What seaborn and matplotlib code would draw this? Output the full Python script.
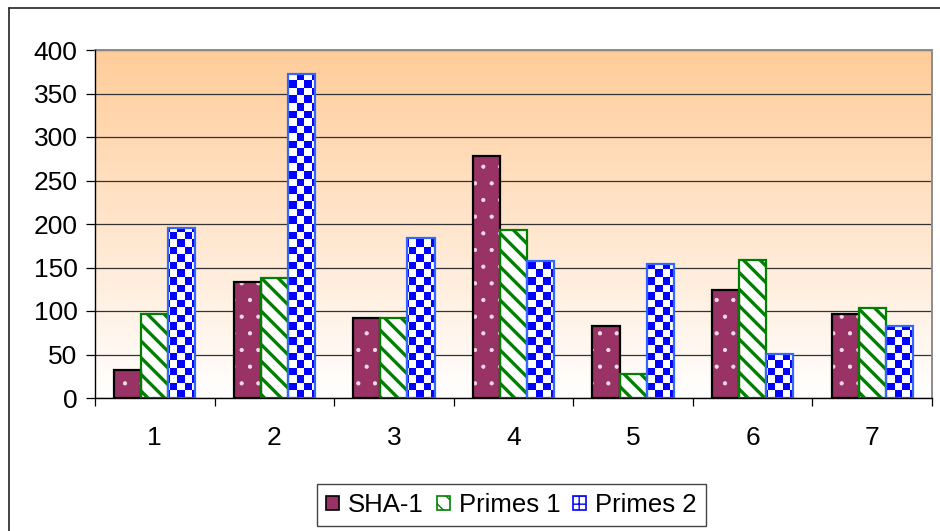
import numpy as np
import pandas as pd
import matplotlib
matplotlib.use("Agg")
import matplotlib.pyplot as plt
import seaborn as sns
from matplotlib.patches import Rectangle, Patch
from matplotlib.path import Path
from matplotlib.lines import Line2D
from matplotlib.colors import ListedColormap, to_rgb

groups = ["1", "2", "3", "4", "5", "6", "7"]
series = ["SHA-1", "Primes 1", "Primes 2"]
sha1 = [32, 133, 92, 278, 83, 124, 97]
primes1 = [97, 138, 92, 193, 28, 159, 104]
primes2 = [195, 372, 184, 157, 154, 51, 83]
yticks = [0, 50, 100, 150, 200, 250, 300, 350, 400]

df = pd.DataFrame({
    "group": groups * 3,
    "series": [s for s in series for _ in groups],
    "value": sha1 + primes1 + primes2,
})

sns.set_theme(style="white")
plt.rcParams["font.family"] = ["Liberation Sans", "DejaVu Sans"]

W, H = 940, 531
fig = plt.figure(figsize=(W / 100, H / 100), dpi=100)
fig.patch.set_facecolor("white")
L, R, T, B = 95, 932, 50, 398
ax = fig.add_axes([L / W, 1 - B / H, (R - L) / W, (B - T) / H])

palette = {"SHA-1": "#993366", "Primes 1": "#FFFFFF", "Primes 2": "#FFFFFF"}
sns.barplot(data=df, x="group", y="value", hue="series", hue_order=series,
            order=groups, palette=palette, width=0.68, gap=0, ax=ax,
            legend=False, saturation=1, zorder=3, errorbar=None)

ax.set_xlim(-0.5, 6.5)
ax.set_ylim(0, 400)

def hlw(p, lw):
    if hasattr(p, "set_hatch_linewidth"):
        p.set_hatch_linewidth(lw)

edge_cols = ["#000000", "#008000", "#3366FF"]
rects = []
for i, cont in enumerate(ax.containers):
    for bar in cont:
        x, y = bar.get_x(), bar.get_y()
        w, h = bar.get_width(), bar.get_height()
        if i == 0:
            bar.set_edgecolor("#F2DCE6")
            bar.set_linewidth(0)
            bar.set_hatch(".")
            hlw(bar, 0.6)
        elif i == 1:
            bar.set_edgecolor("#008000")
            bar.set_linewidth(0)
            bar.set_hatch("\\\\")
            hlw(bar, 2.4)
        else:
            bar.set_edgecolor("#3366FF")
            bar.set_linewidth(0)
            rects.append((x, y, w, h))
        ax.add_patch(Rectangle((x, y), w, h, fill=False,
                               edgecolor=edge_cols[i], linewidth=1.6,
                               zorder=5))

# checkerboard for Primes 2, clipped to its bars
fig.canvas.draw()
bb = ax.get_window_extent()
cell = 7.5
nx = int(round(bb.width / cell))
ny = int(round(bb.height / cell))
ii, jj = np.indices((ny, nx))
checker = (ii + jj) % 2
cmap = ListedColormap(["#FFFFFF", "#0000FF"])
im = ax.imshow(checker, cmap=cmap, origin="lower", extent=(0, 1, 0, 1),
               transform=ax.transAxes, aspect="auto",
               interpolation="nearest", zorder=4)
paths = [Path([(x, y), (x + w, y), (x + w, y + h), (x, y + h), (x, y)],
              [Path.MOVETO, Path.LINETO, Path.LINETO, Path.LINETO,
               Path.CLOSEPOLY]) for (x, y, w, h) in rects]
im.set_clip_path(Path.make_compound_path(*paths), ax.transData)

# gradient background
top = np.array(to_rgb("#FFCC99"))
bot = np.array([1.0, 1.0, 1.0])
t = np.linspace(0, 1, 256)[:, None]
grad = (bot + (top - bot) * t)[:, None, :]
ax.imshow(grad, origin="lower", extent=(0, 1, 0, 1), transform=ax.transAxes,
          aspect="auto", zorder=0)

ax.set_xlim(-0.5, 6.5)
ax.set_ylim(0, 400)

ax.set_axisbelow(True)
ax.yaxis.grid(True, color="#333333", linewidth=0.9)
ax.xaxis.grid(False)
ax.set_yticks(yticks)
ax.set_yticklabels([str(v) for v in yticks])
ax.set_xticks(range(len(groups)))
ax.set_xticklabels(groups)
ax.set_xticks(np.arange(-0.5, 7.0, 1.0), minor=True)
ax.tick_params(axis="y", which="major", left=True, length=6.5, width=0.9,
               color="black", pad=6, labelsize=19, labelcolor="black")
ax.tick_params(axis="x", which="major", bottom=True, length=0, pad=20,
               labelsize=19, labelcolor="black")
ax.tick_params(axis="x", which="minor", bottom=True, length=6, width=0.9,
               color="black")
ax.set_xlabel("")
ax.set_ylabel("")

for s in ["left", "bottom"]:
    ax.spines[s].set_color("black")
    ax.spines[s].set_linewidth(1.0)
    ax.spines[s].set_zorder(6)
for s in ["top", "right"]:
    ax.spines[s].set_color("#8C8C8C")
    ax.spines[s].set_linewidth(1.4)

# legend
h1 = Patch(facecolor="#993366", edgecolor="black", linewidth=1.2)
h2 = Patch(facecolor="white", edgecolor="#008000", hatch="\\\\", linewidth=1.2)
h3 = Patch(facecolor="white", edgecolor="#0000FF", hatch="++", linewidth=1.2)
leg = fig.legend([h1, h2, h3], series, loc="center",
                 bbox_to_anchor=(511.5 / W, 1 - 505 / H), ncol=3,
                 frameon=True, fancybox=False, framealpha=1,
                 edgecolor="#444444", fontsize=18.5, handlelength=0.5,
                 handleheight=0.5, handletextpad=0.35, columnspacing=0.5,
                 borderpad=0.35, borderaxespad=0)
leg.get_frame().set_linewidth(1.0)
for txt in leg.get_texts():
    txt.set_color("black")

# outer chart border (partially visible)
fig.add_artist(Line2D([9 / W, 1], [1 - 8 / H, 1 - 8 / H],
                      transform=fig.transFigure, color="#222222", lw=1.2))
fig.add_artist(Line2D([9 / W, 9 / W], [0, 1 - 8 / H],
                      transform=fig.transFigure, color="#222222", lw=1.2))

fig.savefig("out.png", dpi=100)
